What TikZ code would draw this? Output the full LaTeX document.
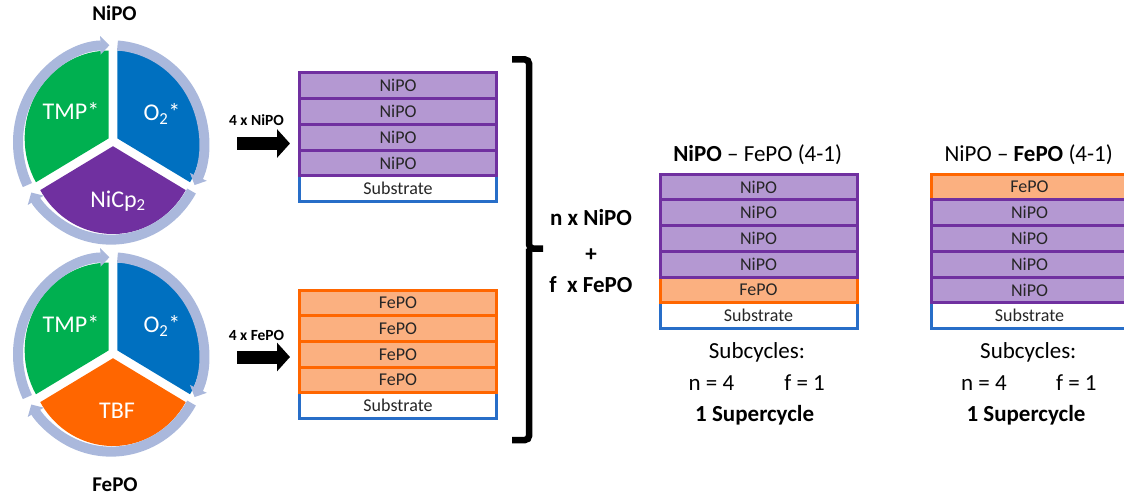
\documentclass[tikz,border=0pt]{standalone}
\usepackage{fontspec}
\setmainfont{Carlito}
\usetikzlibrary{arrows.meta}
\definecolor{pgreen}{RGB}{0,176,80}
\definecolor{pblue}{RGB}{0,112,192}
\definecolor{ppurple}{RGB}{112,48,160}
\definecolor{porange}{RGB}{255,102,0}
\definecolor{ringcol}{RGB}{170,184,220}
\definecolor{lpurple}{RGB}{180,152,210}
\definecolor{lorange}{RGB}{251,176,128}
\definecolor{sblue}{RGB}{40,110,200}
\tikzset{
  layer/.style={draw, line width=3pt, minimum width=197pt, minimum height=25.7pt,
    inner sep=0pt, outer sep=0pt, font=\fontsize{18}{18}\selectfont, text=black!85},
  ni/.style={layer, draw=ppurple, fill=lpurple},
  fe/.style={layer, draw=porange, fill=lorange},
  sub/.style={layer, draw=sblue, fill=white},
  ringarc/.style={draw=ringcol, line width=10pt, -{Triangle[width=18pt,length=9pt]}},
  pietext/.style={text=white, font=\fontsize{24}{24}\selectfont, anchor=base, inner sep=0pt},
  blockarr/.style={line width=13pt, -{Triangle[width=28pt,length=13pt]}},
  smalllbl/.style={font=\bfseries\fontsize{15.5}{15.5}\selectfont, anchor=base, inner sep=0pt},
  biglbl/.style={font=\fontsize{23}{23}\selectfont, anchor=base, inner sep=0pt},
  cyclbl/.style={font=\bfseries\fontsize{21}{21}\selectfont, anchor=base, inner sep=0pt},
}
% #1 y offset, #2 colour of third sector, #3 its text, #4 name prefix, #5 x of text, #6 baseline of text
\newcommand\drawcycle[6]{%
  \begin{scope}[shift={(113,141+#1)}, yscale=-1.045]
    \fill[pgreen] (150:5) -- ++(90:84) arc[start angle=90,end angle=210,radius=84] -- cycle;
    \fill[pblue] (30:5) -- ++(-30:84) arc[start angle=-30,end angle=90,radius=84] -- cycle;
    \fill[#2] (270:5) -- ++(210:84) arc[start angle=210,end angle=330,radius=84] -- cycle;
    \begin{scope}[shift={(-2,-1.4)}]
      \draw[ringarc] (206:93) arc[start angle=206,end angle=91,radius=93];
      \draw[ringarc] (86:93) arc[start angle=86,end angle=-26,radius=93];
      \draw[ringarc] (-30:93) arc[start angle=-30,end angle=-149,radius=93];
    \end{scope}
  \end{scope}
  \node[pietext] (#4tmp) at (71,120+#1) {TMP*};
  \node[pietext] (#4ox) at (162,120.5+#1) {O\textsubscript{2}*};
  \node[pietext] (#4m) at (#5,#6) {#3};
}
\begin{document}
\begin{tikzpicture}[x=1pt,y=-1pt]
\useasboundingbox (0,0) rectangle (1124,500);

% cycles
\drawcycle{0}{ppurple}{NiCp\textsubscript{2}}{top}{118}{207}
\drawcycle{212}{porange}{TBF}{bot}{117}{418}
\node[cyclbl] (lblni) at (114.5,21) {NiPO};
\node[cyclbl] (lblfe) at (115,491.7) {FePO};

% arrows
\coordinate (a1s) at (237,143.5);
\coordinate (a1e) at (290,143.5);
\coordinate (a2s) at (237,357);
\coordinate (a2e) at (290,357);
\draw[blockarr] (a1s) -- (a1e);
\draw[blockarr] (a2s) -- (a2e);
\node[smalllbl] (l4ni) at (256.5,125) {4 x NiPO};
\node[smalllbl] (l4fe) at (256.5,340) {4 x FePO};

% left top stack
\node[sub] (ta5) at (398,188.65) {Substrate};
\node[ni] (ta4) at (398,162.95) {NiPO};
\node[ni] (ta3) at (398,137.25) {NiPO};
\node[ni] (ta2) at (398,111.55) {NiPO};
\node[ni] (ta1) at (398,85.85) {NiPO};

% left bottom stack
\node[sub] (tb5) at (398,405.65) {Substrate};
\node[fe] (tb4) at (398,379.95) {FePO};
\node[fe] (tb3) at (398,354.25) {FePO};
\node[fe] (tb2) at (398,328.55) {FePO};
\node[fe] (tb1) at (398,302.85) {FePO};

% brace
\draw[line width=6.5pt, rounded corners=4pt] (512,59.5) -- (529,59.5) -- (529,248.5) -- (543,248.5);
\draw[line width=6.5pt, rounded corners=4pt] (529,248.5) -- (529,440) -- (512,440);
\node[font=\bfseries\fontsize{23}{23}\selectfont, anchor=base, inner sep=0pt] (bn) at (591,225) {n x NiPO};
\node[font=\bfseries\fontsize{23}{23}\selectfont, anchor=base, inner sep=0pt] (bp) at (591,261) {+};
\node[font=\bfseries\fontsize{23}{23}\selectfont, anchor=base, inner sep=0pt] (bf) at (591,292) {f\ \ x FePO};

% right stack 1
\node[biglbl] (h1) at (757.7,161) {\textbf{NiPO} -- FePO (4-1)};
\node[sub] (ra6) at (758.5,315.6) {Substrate};
\node[fe] (ra5) at (758.5,289.9) {FePO};
\node[ni] (ra4) at (758.5,264.2) {NiPO};
\node[ni] (ra3) at (758.5,238.5) {NiPO};
\node[ni] (ra2) at (758.5,212.8) {NiPO};
\node[ni] (ra1) at (758.5,187.1) {NiPO};
\node[biglbl] (sc1) at (757,358.3) {Subcycles:};
\node[biglbl] (n1) at (711.5,390.7) {n = 4};
\node[biglbl] (f1) at (804.6,390.7) {f = 1};
\node[biglbl, font=\bfseries\fontsize{23}{23}\selectfont] (su1) at (754.7,421.7) {1 Supercycle};

% right stack 2
\node[biglbl] (h2) at (1028.7,161) {NiPO -- \textbf{FePO} (4-1)};
\node[fe] (rb1) at (1029.5,187.1) {FePO};
\node[sub] (rb6) at (1029.5,315.6) {Substrate};
\node[ni] (rb5) at (1029.5,289.9) {NiPO};
\node[ni] (rb4) at (1029.5,264.2) {NiPO};
\node[ni] (rb3) at (1029.5,238.5) {NiPO};
\node[ni] (rb2) at (1029.5,212.8) {NiPO};
\node[biglbl] (sc2) at (1028.3,358.3) {Subcycles:};
\node[biglbl] (n2) at (984,390.7) {n = 4};
\node[biglbl] (f2) at (1076.3,390.7) {f = 1};
\node[biglbl, font=\bfseries\fontsize{23}{23}\selectfont] (su2) at (1026,421.7) {1 Supercycle};
\end{tikzpicture}
\end{document}
